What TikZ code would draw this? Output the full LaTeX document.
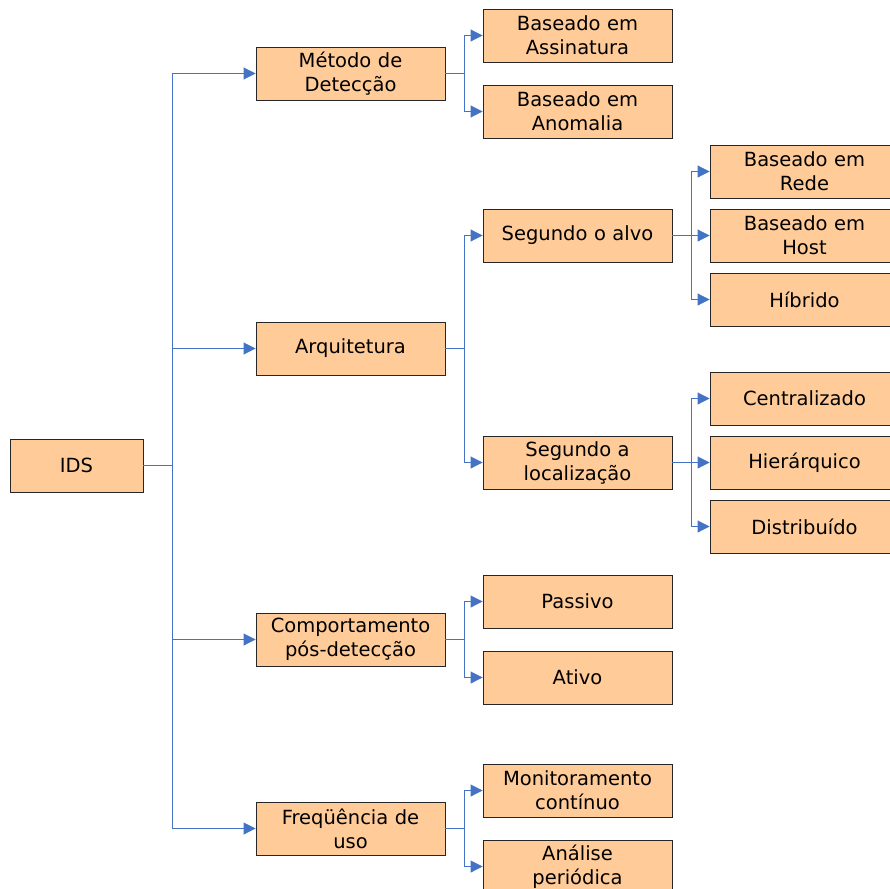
\documentclass[tikz,border=0pt]{standalone}
\usepackage{fontspec}
\setmainfont{DejaVu Sans}
\usetikzlibrary{arrows.meta}
\definecolor{boxfill}{RGB}{255,204,153}
\definecolor{linkblue}{RGB}{68,114,196}
\begin{document}
\begin{tikzpicture}[x=1pt,y=-1pt,
  box/.style={draw=black!85,line width=0.9pt,fill=boxfill,minimum width=189pt,
    minimum height=53pt,text width=186pt,align=center,inner sep=0pt,
    font=\fontsize{19.5}{24}\selectfont},
  link/.style={draw=linkblue,line width=0.9pt,-{Triangle[length=12pt,width=12pt]}}]
\useasboundingbox (0,0) rectangle (890,888);
\fill[white] (0,0) rectangle (890,888);

% raiz
\node[box,minimum width=133pt,text width=125pt] (ids) at (76.5,465.5) {IDS};

% primeiro nivel
\node[box] (met) at (350.5,73.5) {Método de\\Detecção};
\node[box] (arq) at (350.5,348.5) {Arquitetura};
\node[box] (comp) at (350.5,639.5) {Comportamento\\pós-detecção};
\node[box] (freq) at (350.5,828.5) {Freqüência de\\uso};

% segundo nivel
\node[box] (ass) at (577.5,35.5) {Baseado em\\Assinatura};
\node[box] (ano) at (577.5,111.5) {Baseado em\\Anomalia};
\node[box] (alvo) at (577.5,235.5) {Segundo o alvo};
\node[box] (loc) at (577.5,462.5) {Segundo a\\localização};
\node[box] (pas) at (577.5,601.5) {Passivo};
\node[box] (ati) at (577.5,677.5) {Ativo};
\node[box] (mon) at (577.5,790.5) {Monitoramento\\contínuo};
\node[box] (ana) at (577.5,866.5) {Análise\\periódica};

% terceiro nivel
\node[box] (rede) at (804.5,171.5) {Baseado em\\Rede};
\node[box] (host) at (804.5,235.5) {Baseado em\\Host};
\node[box] (hib) at (804.5,299.5) {Híbrido};
\node[box] (cen) at (804.5,398.5) {Centralizado};
\node[box] (hie) at (804.5,462.5) {Hierárquico};
\node[box] (dis) at (804.5,526.5) {Distribuído};

% pontos de ramificacao
\coordinate (tr) at (172,465.5);
\coordinate (bmet) at (464,73.5);
\coordinate (barq) at (464,348.5);
\coordinate (bcomp) at (464,639.5);
\coordinate (bfreq) at (464,828.5);
\coordinate (balvo) at (691,235.5);
\coordinate (bloc) at (691,462.5);

\foreach \c in {met,arq,comp,freq}
  \draw[link] (ids.east) -- (tr) |- (\c.west);
\foreach \c in {ass,ano}
  \draw[link] (met.east) -- (bmet) |- (\c.west);
\foreach \c in {alvo,loc}
  \draw[link] (arq.east) -- (barq) |- (\c.west);
\foreach \c in {pas,ati}
  \draw[link] (comp.east) -- (bcomp) |- (\c.west);
\foreach \c in {mon,ana}
  \draw[link] (freq.east) -- (bfreq) |- (\c.west);
\foreach \c in {rede,host,hib}
  \draw[link] (alvo.east) -- (balvo) |- (\c.west);
\foreach \c in {cen,hie,dis}
  \draw[link] (loc.east) -- (bloc) |- (\c.west);
\end{tikzpicture}
\end{document}
